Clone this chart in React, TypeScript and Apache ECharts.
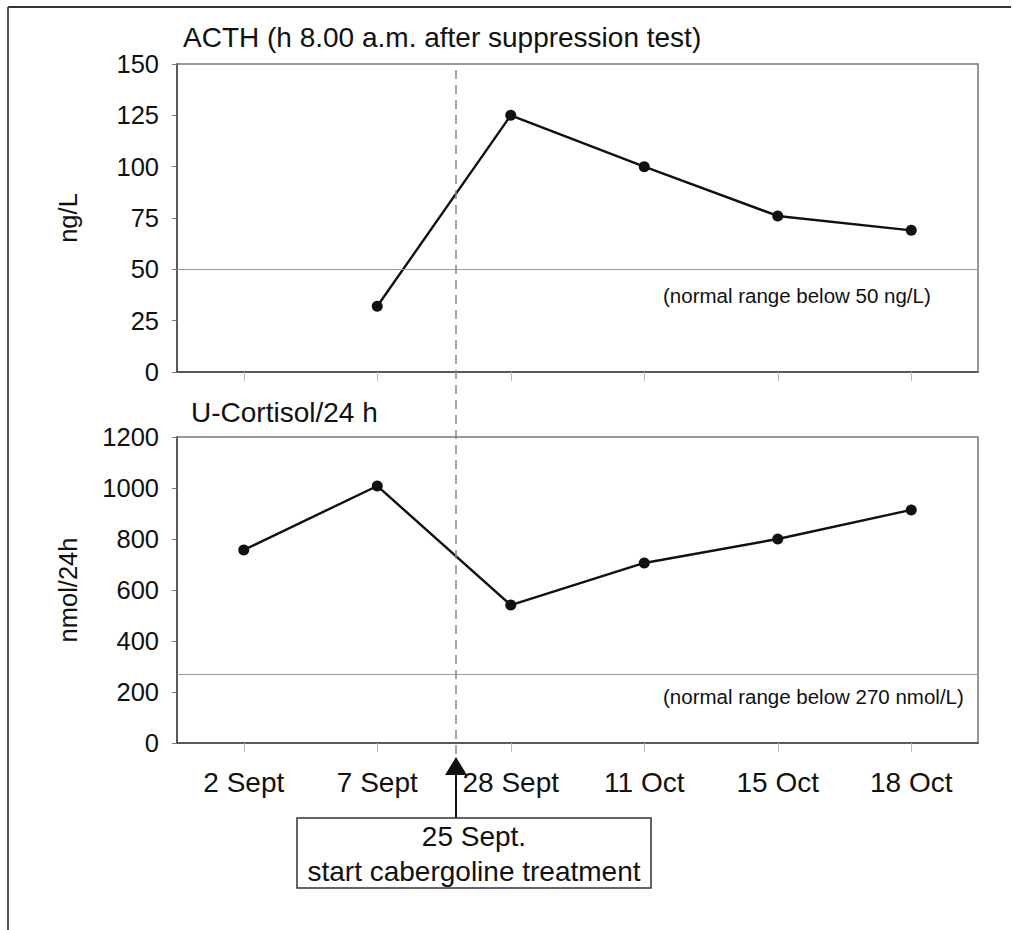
import React, { useEffect, useRef } from "react";
import * as echarts from "echarts";

// Sampling dates shared by both panels
const categories = ["2 Sept", "7 Sept", "28 Sept", "11 Oct", "15 Oct", "18 Oct"];

// ACTH at 8.00 a.m. after suppression test (ng/L); no sample on 2 Sept
const acthValues: (number | null)[] = [null, 32, 125, 100, 76, 69];
// 24 h urinary cortisol (nmol/24h)
const cortisolValues = [757, 1008, 541, 706, 800, 914];

// Upper limits of the normal ranges
const acthNormalLimit = 50;
const cortisolNormalLimit = 270;

// Value axis ranges
const acthAxis = { min: 0, max: 150, step: 25 };
const cortisolAxis = { min: 0, max: 1200, step: 200 };

// Treatment start (25 Sept) sits between "7 Sept" and "28 Sept"
const treatmentAfterIndex = 1;
const treatmentFraction = 0.59;

const FONT = "'Liberation Sans', Arial, Helvetica, sans-serif";
const INK = "#111";

export default function App() {
  const ref = useRef<HTMLDivElement>(null);

  useEffect(() => {
    if (!ref.current) return;
    const chart = echarts.init(ref.current, undefined, { renderer: "svg" });

    const axisLine = { show: true, lineStyle: { color: "#444", width: 1.5 } };
    const yLabel = {
      fontSize: 25.5,
      color: INK,
      fontFamily: FONT,
      margin: 18,
      formatter: (v: number) => String(v),
    };
    const yTick = { show: true, length: 5, lineStyle: { color: "#777", width: 1 } };
    const xTick = { show: true, alignWithLabel: true, length: 9, lineStyle: { color: "#bbb", width: 1 } };
    const nameStyle = { fontSize: 25.5, color: INK, fontFamily: FONT };

    const normalLine = (value: number) => ({
      silent: true,
      symbol: "none",
      label: { show: false },
      lineStyle: { color: "#999", width: 1, type: "solid" },
      data: [{ yAxis: value }],
    });

    chart.setOption({
      animation: false,
      backgroundColor: "#fff",
      textStyle: { fontFamily: FONT },
      title: [
        {
          text: "ACTH (h 8.00 a.m. after suppression test)",
          left: 183,
          top: 23,
          padding: 0,
          textStyle: { fontSize: 28, fontWeight: "normal", color: INK, fontFamily: FONT },
        },
        {
          text: "U-Cortisol/24 h",
          left: 191,
          top: 398,
          padding: 0,
          textStyle: { fontSize: 28, fontWeight: "normal", color: INK, fontFamily: FONT },
        },
      ],
      grid: [
        { left: 177, right: 36, top: 64, height: 308, show: true, borderColor: "#777", borderWidth: 1.5, backgroundColor: "transparent" },
        { left: 177, right: 36, top: 437, height: 306, show: true, borderColor: "#777", borderWidth: 1.5, backgroundColor: "transparent" },
      ],
      xAxis: [
        {
          type: "category",
          gridIndex: 0,
          data: categories,
          boundaryGap: true,
          axisLine,
          axisTick: xTick,
          axisLabel: { show: false },
          splitLine: { show: false },
        },
        {
          type: "category",
          gridIndex: 1,
          data: categories,
          boundaryGap: true,
          axisLine,
          axisTick: xTick,
          axisLabel: { fontSize: 28, color: INK, fontFamily: FONT, margin: 25 },
          splitLine: { show: false },
        },
      ],
      yAxis: [
        {
          type: "value",
          gridIndex: 0,
          min: acthAxis.min,
          max: acthAxis.max,
          interval: acthAxis.step,
          name: "ng/L",
          nameLocation: "middle",
          nameGap: 96,
          nameTextStyle: nameStyle,
          axisLine,
          axisTick: yTick,
          axisLabel: yLabel,
          splitLine: { show: false },
        },
        {
          type: "value",
          gridIndex: 1,
          min: cortisolAxis.min,
          max: cortisolAxis.max,
          interval: cortisolAxis.step,
          name: "nmol/24h",
          nameLocation: "middle",
          nameGap: 96,
          nameTextStyle: nameStyle,
          axisLine,
          axisTick: yTick,
          axisLabel: yLabel,
          splitLine: { show: false },
        },
      ],
      series: [
        {
          name: "ACTH",
          type: "line",
          xAxisIndex: 0,
          yAxisIndex: 0,
          data: acthValues,
          symbol: "circle",
          symbolSize: 11,
          itemStyle: { color: INK },
          lineStyle: { color: INK, width: 2.4 },
          markLine: normalLine(acthNormalLimit),
        },
        {
          name: "U-Cortisol",
          type: "line",
          xAxisIndex: 1,
          yAxisIndex: 1,
          data: cortisolValues,
          symbol: "circle",
          symbolSize: 11,
          itemStyle: { color: INK },
          lineStyle: { color: INK, width: 2.4 },
          markLine: normalLine(cortisolNormalLimit),
        },
      ],
    });

    // Annotations positioned from the axes' own scales
    const xA = chart.convertToPixel({ xAxisIndex: 1 }, categories[treatmentAfterIndex]) as number;
    const xB = chart.convertToPixel({ xAxisIndex: 1 }, categories[treatmentAfterIndex + 1]) as number;
    const xT = Math.round(xA + (xB - xA) * treatmentFraction);
    const yTop = chart.convertToPixel({ yAxisIndex: 0 }, acthAxis.max) as number;
    const yZero = chart.convertToPixel({ yAxisIndex: 1 }, cortisolAxis.min) as number;
    const yActhNormal = chart.convertToPixel({ yAxisIndex: 0 }, acthNormalLimit) as number;
    const yCortNormal = chart.convertToPixel({ yAxisIndex: 1 }, cortisolNormalLimit) as number;
    const noteX = 663;

    const tipY = yZero + 14;
    const baseY = yZero + 32;
    const boxTop = yZero + 75;
    const boxW = 354;
    const boxH = 70;
    const boxLeft = xT - 159;

    chart.setOption({
      graphic: [
        // figure frame
        { type: "line", shape: { x1: 8, y1: 7, x2: 1011, y2: 7 }, style: { stroke: "#333", lineWidth: 2 } },
        { type: "line", shape: { x1: 8, y1: 7, x2: 8, y2: 930 }, style: { stroke: "#555", lineWidth: 2 } },
        // treatment start marker
        {
          type: "line",
          shape: { x1: xT, y1: yTop + 6, x2: xT, y2: tipY },
          style: { stroke: "#888", lineWidth: 1.5, lineDash: [9, 6] },
          z: 5,
        },
        {
          type: "polygon",
          shape: { points: [[xT, tipY], [xT - 11, baseY], [xT + 11, baseY]] },
          style: { fill: INK },
          z: 6,
        },
        {
          type: "line",
          shape: { x1: xT, y1: baseY, x2: xT, y2: boxTop },
          style: { stroke: INK, lineWidth: 2 },
          z: 6,
        },
        {
          type: "rect",
          shape: { x: boxLeft, y: boxTop, width: boxW, height: boxH },
          style: { fill: "#fff", stroke: "#333", lineWidth: 1.5 },
          z: 6,
        },
        {
          type: "text",
          x: boxLeft + boxW / 2,
          y: boxTop + 18,
          style: { text: "25 Sept.", fontSize: 28, fill: INK, fontFamily: FONT, align: "center", verticalAlign: "middle" },
          z: 7,
        },
        {
          type: "text",
          x: boxLeft + boxW / 2,
          y: boxTop + 53,
          style: { text: "start cabergoline treatment", fontSize: 28, fill: INK, fontFamily: FONT, align: "center", verticalAlign: "middle" },
          z: 7,
        },
        // normal range notes
        {
          type: "text",
          x: noteX,
          y: yActhNormal + 26,
          style: { text: "(normal range below 50 ng/L)", fontSize: 20.5, fill: INK, fontFamily: FONT, align: "left", verticalAlign: "middle" },
        },
        {
          type: "text",
          x: noteX,
          y: yCortNormal + 22,
          style: { text: "(normal range below 270 nmol/L)", fontSize: 20.5, fill: INK, fontFamily: FONT, align: "left", verticalAlign: "middle" },
        },
      ],
    });

    return () => chart.dispose();
  }, []);

  return (
    <div
      ref={ref}
      style={{ position: "absolute", left: 0, top: 0, width: 1014, height: 930 }}
    />
  );
}
